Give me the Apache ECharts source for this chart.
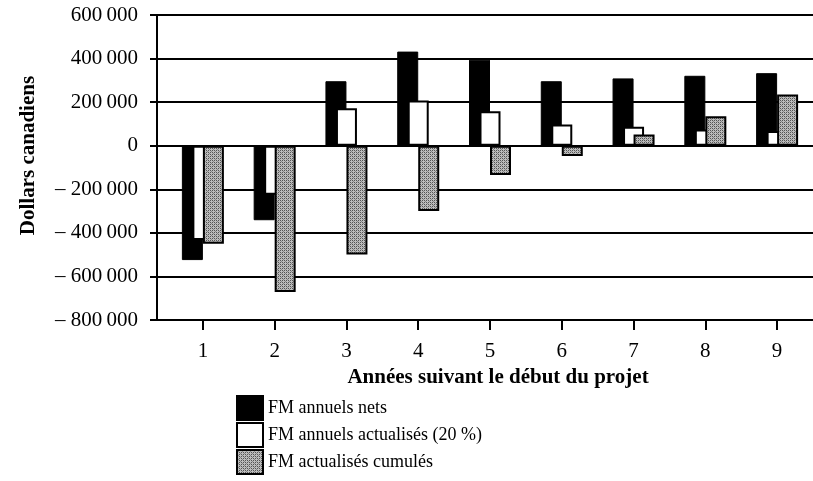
<!DOCTYPE html>
<html>
<head>
<meta charset="utf-8">
<script src="https://cdn.jsdelivr.net/npm/echarts@6/dist/echarts.min.js"></script>
<style>html,body{margin:0;padding:0;background:#fff}#c{width:813px;height:481px}</style>
</head>
<body>
<div id="c"></div>
<script>
var categories = ['1','2','3','4','5','6','7','8','9'];
var fmNets = [-525000, -342000, 296000, 432000, 395000, 296000, 309000, 321000, 333000];
var fmActualises = [-433000, -225000, 172000, 207000, 158000, 97000, 87000, 74000, 68000];
var fmCumules = [-450000, -672000, -499000, -300000, -134000, -47000, 51000, 135000, 235000];
var seriesNames = ['FM annuels nets', 'FM annuels actualisés (20 %)', 'FM actualisés cumulés'];
var yMin = -800000, yMax = 600000, yStep = 200000;

var FONT = 'Liberation Serif';
function fmt(v){
  var a = Math.abs(v);
  var s = String(a).replace(/\B(?=(\d{3})+(?!\d))/g, '\u2009');
  return v < 0 ? '\u2013 ' + s : s;
}
var pc = document.createElement('canvas');
pc.width = 4; pc.height = 4;
var pctx = pc.getContext('2d');
pctx.fillStyle = '#bdbdbd'; pctx.fillRect(0,0,4,4);
pctx.fillStyle = '#555';
pctx.fillRect(0,0,1,1); pctx.fillRect(2,2,1,1); pctx.fillRect(2,0,1,1); pctx.fillRect(0,2,1,1);
pctx.fillStyle = '#888';
pctx.fillRect(1,1,1,1); pctx.fillRect(3,3,1,1);
var grayPattern = {image: pc, repeat: 'repeat'};

var chart = echarts.init(document.getElementById('c'));
chart.setOption({
  animation: false,
  backgroundColor: '#fff',
  grid: [
    {left: 157, right: 0, top: 15, bottom: 161},
    {left: 167, right: -2, top: 15, bottom: 161}
  ],
  xAxis: [
    {gridIndex: 0, type: 'category', data: categories,
     axisLine: {onZero: false, lineStyle: {color: '#000', width: 2}},
     axisTick: {show: false}, axisLabel: {show: false}},
    {gridIndex: 1, type: 'category', data: categories,
     axisLine: {show: false, onZero: false},
     axisTick: {show: true, alignWithLabel: true, length: 10, lineStyle: {color: '#000', width: 2}},
     axisLabel: {color: '#000', fontFamily: FONT, fontSize: 21, margin: 21},
     name: 'Années suivant le début du projet', nameLocation: 'middle', nameGap: 47,
     nameTextStyle: {color: '#000', fontFamily: FONT, fontSize: 21, fontWeight: 'bold', padding: [0, 0, 0, 16]}}
  ],
  yAxis: [
    {gridIndex: 0, type: 'value', min: yMin, max: yMax, interval: yStep,
     axisLine: {show: true, lineStyle: {color: '#000', width: 2}},
     axisTick: {show: true, length: 7, lineStyle: {color: '#000', width: 2}},
     axisLabel: {color: '#000', fontFamily: FONT, fontSize: 21, margin: 19, formatter: fmt},
     splitLine: {show: true, lineStyle: {color: '#000', width: 2}},
     name: 'Dollars canadiens', nameLocation: 'middle', nameGap: 118,
     nameTextStyle: {color: '#000', fontFamily: FONT, fontSize: 21, fontWeight: 'bold', padding: [0, 0, 0, 24]}},
    {gridIndex: 1, type: 'value', min: yMin, max: yMax, interval: yStep, show: false,
     splitLine: {show: false}}
  ],
  legend: {
    orient: 'vertical', left: 236, top: 395, padding: 0, height: 90,
    itemWidth: 26, itemHeight: 24, itemGap: 1,
    icon: 'rect', data: seriesNames,
    textStyle: {color: '#000', fontFamily: FONT, fontSize: 18, lineHeight: 18, padding: [6, 0, 0, 0]}
  },
  series: [
    {name: seriesNames[0], type: 'bar', xAxisIndex: 1, yAxisIndex: 1, data: fmNets,
     barWidth: 21, barGap: '-50%', itemStyle: {color: '#000', borderColor: '#000', borderWidth: 1}},
    {name: seriesNames[1], type: 'bar', xAxisIndex: 1, yAxisIndex: 1, data: fmActualises,
     barWidth: 21, barGap: '-50%', itemStyle: {color: '#fff', borderColor: '#000', borderWidth: 2}},
    {name: seriesNames[2], type: 'bar', xAxisIndex: 1, yAxisIndex: 1, data: fmCumules,
     barWidth: 21, barGap: '-50%', itemStyle: {color: grayPattern, borderColor: '#000', borderWidth: 2}}
  ]
});
</script>
</body>
</html>
